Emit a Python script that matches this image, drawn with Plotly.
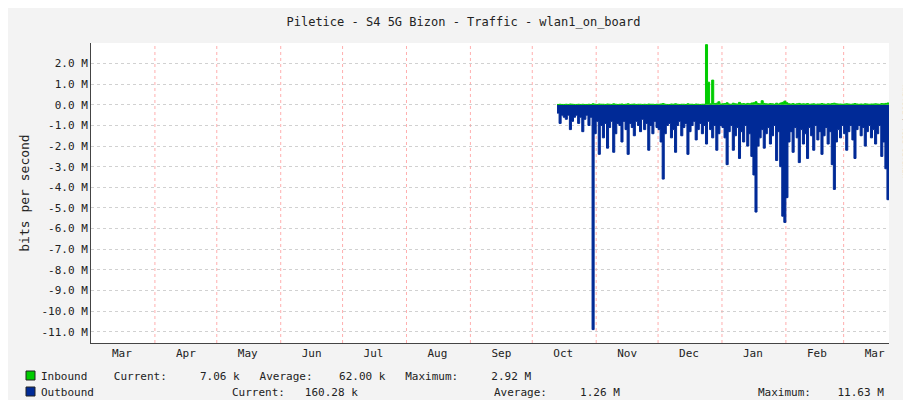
import plotly.graph_objects as go
import pandas as pd

start = "2018-10-13"
outbound_m = [0.4,0.9,0.5,0.6,0.7,0.5,1.2,0.8,0.6,0.5,0.9,0.6,1.3,0.7,0.5,1.0,0.6,10.9,1.4,
 0.8,2.4,1.0,1.6,0.9,2.1,1.1,0.8,2.3,1.4,0.9,1.0,1.8,0.8,1.2,2.4,0.9,1.1,1.5,0.8,1.0,1.3,0.7,1.2,0.9,2.2,1.0,1.4,0.8,1.1,
 1.2,1.8,3.6,1.4,1.0,0.9,1.6,1.2,2.3,1.0,0.8,1.5,1.1,0.9,2.4,1.3,1.0,0.8,1.7,1.2,0.9,1.4,1.0,1.9,0.8,1.2,1.6,1.0,2.2,1.4,1.0,
 1.1,1.6,2.9,1.3,1.0,2.2,1.5,1.1,2.6,1.3,1.8,1.0,2.0,1.4,2.5,3.4,5.2,2.0,1.6,1.2,2.1,1.4,1.1,1.9,1.5,1.0,2.7,1.3,3.0,5.4,5.7,
 4.5,1.8,1.3,2.3,1.1,1.6,2.8,1.2,1.9,1.4,2.6,1.1,1.5,2.2,1.0,1.7,1.3,2.4,1.5,1.1,1.9,1.3,2.9,4.1,1.8,1.2,1.6,1.0,
 1.4,2.2,1.3,1.0,1.7,2.6,1.2,1.0,1.5,1.1,2.0,1.3,1.0,1.6,1.2,1.9,1.4,1.0,2.5,1.8,3.1,4.6,1.2]
inbound_m = [0.02,0.03,0.02,0.02,0.03,0.02,0.04,0.03,0.02,0.02,0.03,0.02,0.03,0.02,0.02,0.03,0.02,0.05,0.03,
 0.02,0.04,0.03,0.03,0.02,0.04,0.03,0.02,0.05,0.03,0.02,0.03,0.04,0.02,0.03,0.05,0.02,0.03,0.04,0.02,0.03,0.03,0.02,0.03,0.02,0.04,0.03,0.03,0.02,0.03,
 0.03,0.04,0.06,0.03,0.02,0.02,0.04,0.03,0.05,0.03,0.02,0.03,0.03,0.02,0.05,0.03,0.03,0.02,0.04,0.03,0.02,0.03,0.03,2.92,1.1,0.05,1.2,0.06,0.08,0.15,0.04,
 0.05,0.06,0.1,0.04,0.03,0.08,0.05,0.04,0.12,0.05,0.06,0.04,0.07,0.05,0.09,0.1,0.15,0.06,0.05,0.2,0.07,0.05,0.04,0.06,0.05,0.03,0.08,0.04,0.09,0.12,0.18,
 0.1,0.05,0.04,0.06,0.03,0.05,0.07,0.04,0.05,0.04,0.06,0.03,0.04,0.05,0.03,0.04,0.04,0.06,0.04,0.03,0.05,0.04,0.06,0.08,0.05,0.04,0.04,0.03,
 0.04,0.05,0.04,0.03,0.04,0.06,0.04,0.03,0.04,0.03,0.05,0.04,0.03,0.04,0.04,0.05,0.04,0.03,0.06,0.05,0.07,0.09,0.04]
dates = pd.date_range(start, periods=len(outbound_m), freq="D")
month_starts = pd.date_range("2018-04-01", "2019-03-01", freq="MS")
label_dates = pd.date_range("2018-03-01", "2019-03-01", freq="MS") + pd.Timedelta(days=15)
month_labels = [d.strftime("%b") for d in label_dates]
ytick_vals = [2,1,0,-1,-2,-3,-4,-5,-6,-7,-8,-9,-10,-11]
ytick_text = [f"{v:.1f} M" for v in ytick_vals]

F = "DejaVu Sans Mono"
L, T, PW, PH = 83, 35, 798, 300
def px(x): return (x - L) / PW
def py(y): return 1 - (y - T) / PH

fig = go.Figure()
fig.add_trace(go.Scatter(x=dates, y=[-v for v in outbound_m], fill="tozeroy", mode="lines",
    line=dict(color="#002A97", width=1, shape="hv"), fillcolor="#002A97", showlegend=False))
fig.add_trace(go.Scatter(x=dates, y=inbound_m, fill="tozeroy", mode="lines",
    line=dict(color="#00CC00", width=1, shape="hv"), fillcolor="#00CC00", showlegend=False))
for d in month_starts:
    fig.add_shape(type="line", x0=d, x1=d, y0=0, y1=1, yref="paper",
                  line=dict(color="rgba(255,140,140,0.7)", width=1, dash="dot"), layer="below")
fig.update_layout(
    width=911, height=400, margin=dict(l=L, r=911 - L - PW, t=T, b=400 - T - PH),
    paper_bgcolor="#F3F3F3", plot_bgcolor="white", showlegend=False,
    font=dict(family=F, size=11, color="#222"),
    title=dict(text="Piletice - S4 5G Bizon - Traffic - wlan1_on_board", x=0.5, xanchor="center",
               y=1 - 14 / 400, yanchor="middle", font=dict(family=F, size=12)),
    xaxis=dict(range=["2018-03-01", "2019-03-23"], tickvals=label_dates, ticktext=month_labels,
               showgrid=False, showline=True, linecolor="#444", ticks="", zeroline=False, automargin=False),
    yaxis=dict(range=[-11.55, 3.0], tickvals=ytick_vals, ticktext=ytick_text,
               gridcolor="rgba(190,190,190,0.7)", griddash="dot", showline=True, linecolor="#444",
               zeroline=False, automargin=False, title=dict(text="bits per second", standoff=8)),
)
def txt(x, y, t, color="#222", size=11, **kw):
    fig.add_annotation(x=px(x), y=py(y), xref="paper", yref="paper", text=t, showarrow=False,
                       xanchor="left", yanchor="middle", font=dict(family=F, size=size, color=color), **kw)
fig.add_shape(type="rect", xref="paper", yref="paper", x0=px(18), x1=px(27), y0=py(363), y1=py(372),
              fillcolor="#00CC00", line=dict(color="#222", width=1))
fig.add_shape(type="rect", xref="paper", yref="paper", x0=px(18), x1=px(27), y0=py(379), y1=py(388),
              fillcolor="#002A97", line=dict(color="#222", width=1))
txt(31, 368, "Inbound    Current:     7.06 k   Average:    62.00 k   Maximum:     2.92 M")
txt(31, 384, "Outbound")
txt(222, 384, "Current:   160.28 k")
txt(484, 384, "Average:     1.26 M")
txt(748, 384, "Maximum:    11.63 M")
fig.add_annotation(x=px(903), y=py(75), xref="paper", yref="paper", text="RRDTOOL / TOBI OETIKER",
                   showarrow=False, textangle=90, font=dict(family=F, size=7, color="#AAA"))
fig.write_html("out.html")
